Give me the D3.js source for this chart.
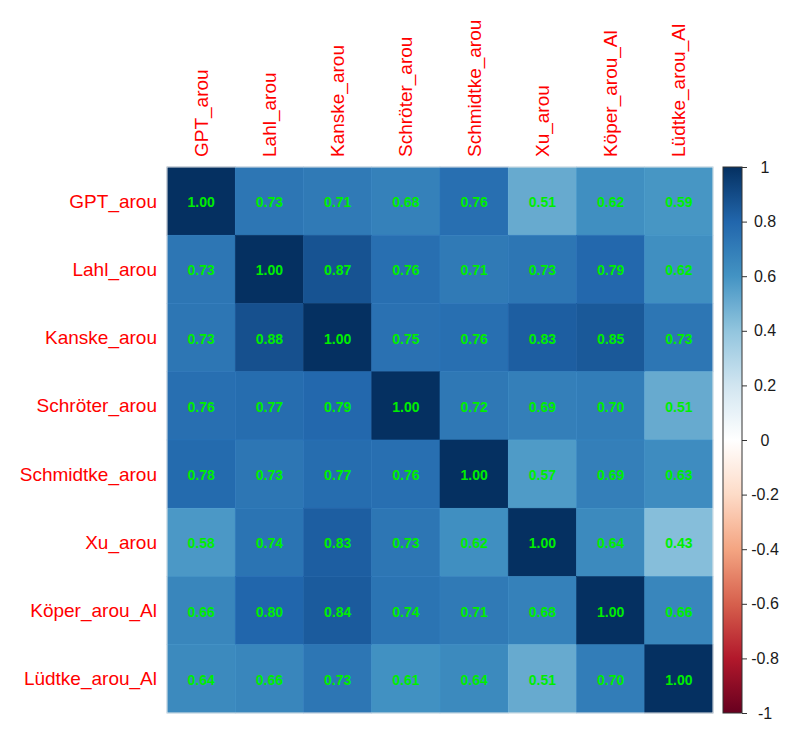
<!DOCTYPE html>
<html><head><meta charset="utf-8">
<script src="https://cdn.jsdelivr.net/npm/d3@7"></script>
<style>body{margin:0;background:#fff}svg{display:block}</style>
</head><body>
<svg id="c" width="800" height="743"></svg>
<script>
const labels = ["GPT_arou","Lahl_arou","Kanske_arou","Schröter_arou","Schmidtke_arou","Xu_arou","Köper_arou_Al","Lüdtke_arou_Al"];
const row0 = [1.00,0.73,0.71,0.68,0.76,0.51,0.62,0.59];
const row1 = [0.73,1.00,0.87,0.76,0.71,0.73,0.79,0.62];
const row2 = [0.73,0.88,1.00,0.75,0.76,0.83,0.85,0.73];
const row3 = [0.76,0.77,0.79,1.00,0.72,0.69,0.70,0.51];
const row4 = [0.78,0.73,0.77,0.76,1.00,0.57,0.69,0.63];
const row5 = [0.58,0.74,0.83,0.73,0.62,1.00,0.64,0.43];
const row6 = [0.66,0.80,0.84,0.74,0.71,0.68,1.00,0.66];
const row7 = [0.64,0.66,0.73,0.61,0.64,0.51,0.70,1.00];
const matrix = [row0,row1,row2,row3,row4,row5,row6,row7];
const legendTicks = [1,0.8,0.6,0.4,0.2,0,-0.2,-0.4,-0.6,-0.8,-1];
const legendLabels = ["1","0.8","0.6","0.4","0.2","0","-0.2","-0.4","-0.6","-0.8","-1"];
const palette = ["#67001F","#B2182B","#D6604D","#F4A582","#FDDBC7","#FFFFFF","#D1E5F0","#92C5DE","#4393C3","#2166AC","#053061"];

const svg = d3.select("#c");
const gLeft = 167, gTop = 167, gSize = 546;
const font = "Liberation Sans, Arial, sans-serif";
const x = d3.scaleBand().domain(labels).range([gLeft, gLeft+gSize]);
const y = d3.scaleBand().domain(labels).range([gTop, gTop+gSize]);
const color = d3.scaleLinear().domain(d3.range(11).map(i => -1 + i*0.2)).range(palette).interpolate(d3.interpolateRgb);

const cells = [];
matrix.forEach((r,i) => r.forEach((v,j) => cells.push({r:labels[i], c:labels[j], v})));

svg.append("g").selectAll("rect").data(cells).join("rect")
  .attr("x", d => x(d.c)).attr("y", d => y(d.r))
  .attr("width", x.bandwidth()).attr("height", y.bandwidth())
  .attr("fill", d => color(d.v))
  .attr("stroke", d => d3.color(color(d.v)).brighter(0.12)).attr("stroke-width",0.6);

svg.append("rect").attr("x", gLeft).attr("y", gTop).attr("width", gSize).attr("height", gSize)
  .attr("fill","none").attr("stroke","#e8e8e8").attr("stroke-width",1);

svg.append("g").selectAll("text").data(cells).join("text")
  .attr("x", d => x(d.c) + x.bandwidth()/2).attr("y", d => y(d.r) + y.bandwidth()/2 + 1)
  .attr("text-anchor","middle").attr("dominant-baseline","central")
  .attr("font-family",font).attr("font-weight","bold")
  .attr("font-size",14).attr("fill","#00EE00")
  .text(d => d.v.toFixed(2));

svg.append("g").selectAll("text").data(labels).join("text")
  .attr("x", 157).attr("y", d => y(d) + y.bandwidth()/2)
  .attr("text-anchor","end").attr("dominant-baseline","central")
  .attr("font-family",font).attr("font-size",19)
  .attr("fill","#FF0000").text(d => d);

svg.append("g").selectAll("text").data(labels).join("text")
  .attr("transform", d => `translate(${x(d)+x.bandwidth()/2},157) rotate(-90)`)
  .attr("text-anchor","start").attr("dominant-baseline","central")
  .attr("font-family",font).attr("font-size",19)
  .attr("fill","#FF0000").text(d => d);

const lx = 723, lw = 19;
const ly = d3.scaleLinear().domain([1,-1]).range([gTop, gTop+gSize]);
const defs = svg.append("defs");
const grad = defs.append("linearGradient").attr("id","g").attr("x1",0).attr("x2",0).attr("y1",0).attr("y2",1);
d3.range(0,1.0001,0.025).forEach(t => grad.append("stop").attr("offset", t).attr("stop-color", color(1-2*t)));
svg.append("rect").attr("x", lx).attr("y", gTop).attr("width", lw).attr("height", gSize)
  .attr("fill","url(#g)").attr("stroke","#333").attr("stroke-width",1);
const axis = d3.axisRight(ly).tickValues(legendTicks).tickSize(5).tickFormat((d,i) => legendLabels[i]);
const ag = svg.append("g").attr("transform",`translate(${lx+lw},0)`).call(axis);
ag.select(".domain").remove();
ag.selectAll("line").attr("stroke","#333");
ag.selectAll("text").attr("font-family",font).attr("font-size",16).attr("fill","#1a1a1a")
  .attr("x",23).attr("text-anchor","middle");
</script>
</body></html>
